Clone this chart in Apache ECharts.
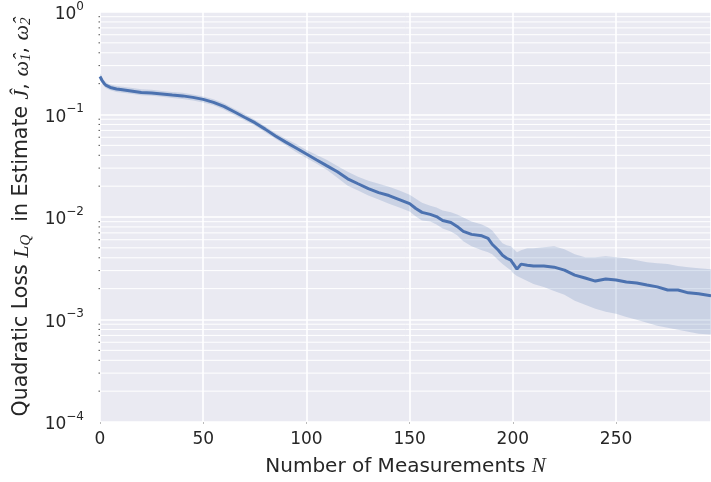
<!DOCTYPE html>
<html>
<head>
<meta charset="utf-8">
<script src="https://cdn.jsdelivr.net/npm/echarts@6/dist/echarts.min.js"></script>
<style>
  html, body { margin: 0; padding: 0; background: #ffffff; }
  #chart { width: 711px; height: 482px; }
</style>
</head>
<body>
<div id="chart"></div>
<script>
// Number of measurements at which the loss was sampled
const measurements = [0, 1, 2, 3, 5, 8, 10, 15, 20, 25, 30, 35, 40, 45, 50, 55, 60, 65, 70, 75,
  80, 85, 90, 95, 100, 105, 110, 115, 120, 125, 130, 135, 140, 145, 150, 153, 156, 160, 163, 166,
  170, 173, 176, 180, 185, 188, 190, 193, 195, 197, 199, 200, 202, 204, 207, 210, 215, 220, 225, 230,
  235, 240, 245, 250, 255, 260, 265, 270, 275, 280, 285, 290, 296];

// Mean quadratic loss
const meanLoss = [0.2347, 0.2146, 0.2008, 0.1920, 0.1836, 0.1776, 0.1756, 0.1698, 0.1642, 0.1624,
  0.1589, 0.1553, 0.1519, 0.1469, 0.1405, 0.1314, 0.1202, 0.1063, 0.0940, 0.0832,
  0.0720, 0.0616, 0.0538, 0.0471, 0.0412, 0.0360, 0.0315, 0.0276, 0.0236, 0.0211,
  0.0189, 0.0173, 0.0162, 0.0148, 0.0135, 0.0121, 0.0111, 0.0106, 0.0101, 0.00925,
  0.00885, 0.00809, 0.00724, 0.00677, 0.00655, 0.00619, 0.00542, 0.00474, 0.00424, 0.00396,
  0.00379, 0.00354, 0.00310, 0.00347, 0.00339, 0.00332, 0.00332, 0.00324, 0.00303, 0.00271,
  0.00254, 0.00237, 0.00248, 0.00243, 0.00232, 0.00227, 0.00217, 0.00208, 0.00194, 0.00194,
  0.00182, 0.00178, 0.00170];

// Upper edge of the spread band
const upperLoss = [0.251, 0.230, 0.215, 0.205, 0.196, 0.190, 0.188, 0.182, 0.176, 0.174,
  0.170, 0.166, 0.163, 0.157, 0.150, 0.141, 0.129, 0.114, 0.101, 0.089,
  0.077, 0.066, 0.058, 0.0515, 0.0450, 0.0403, 0.0360, 0.0315, 0.0276, 0.0247,
  0.0226, 0.0211, 0.0197, 0.0181, 0.0165, 0.0151, 0.0138, 0.0129, 0.0124, 0.0116,
  0.0111, 0.0106, 0.00989, 0.00904, 0.00846, 0.00791, 0.00740, 0.00619, 0.00554, 0.00530,
  0.00518, 0.00495, 0.00453, 0.00474, 0.00495, 0.00495, 0.00506, 0.00518, 0.00484, 0.00433,
  0.00405, 0.00405, 0.00414, 0.00405, 0.00396, 0.00379, 0.00362, 0.00354, 0.00347, 0.00332,
  0.00324, 0.00317, 0.00310];

// Lower edge of the spread band
const lowerLoss = [0.219, 0.201, 0.188, 0.180, 0.172, 0.166, 0.164, 0.159, 0.154, 0.152,
  0.149, 0.145, 0.142, 0.137, 0.131, 0.123, 0.112, 0.099, 0.088, 0.078,
  0.067, 0.058, 0.050, 0.0431, 0.0377, 0.0330, 0.0288, 0.0241, 0.0202, 0.0181,
  0.0162, 0.0148, 0.0135, 0.0124, 0.0113, 0.0101, 0.00925, 0.00904, 0.00846, 0.00774,
  0.00724, 0.00662, 0.00579, 0.00518, 0.00474, 0.00453, 0.00433, 0.00379, 0.00347, 0.00324,
  0.00303, 0.00284, 0.00265, 0.00254, 0.00237, 0.00222, 0.00208, 0.00190, 0.00174, 0.00152,
  0.00139, 0.00127, 0.00119, 0.00114, 0.00106, 0.000995, 0.000930, 0.000870, 0.000832, 0.000796,
  0.000761, 0.000728, 0.000712];

// Axis ranges and ticks
const xTicks = [0, 50, 100, 150, 200, 250];
const xMax = 296;
const yDecades = [1e-4, 1e-3, 1e-2, 1e-1, 1];
const minorMultipliers = [2, 3, 4, 5, 6, 7, 8, 9];

const minorValues = [];
for (let d = 0; d < yDecades.length - 1; d++) {
  for (const m of minorMultipliers) minorValues.push([0, yDecades[d] * m]);
}

const lineColor = '#4C72B0';
const textColor = '#262626';
const mathFont = '"Liberation Serif", "DejaVu Serif", serif';
const sansFont = '"DejaVu Sans", sans-serif';

const chart = echarts.init(document.getElementById('chart'), null, { renderer: 'canvas' });

chart.setOption({
  backgroundColor: '#ffffff',
  animation: false,
  grid: {
    left: 100, right: 0, top: 12, bottom: 57,
    show: true, backgroundColor: '#EAEAF2', borderWidth: 0
  },
  xAxis: {
    type: 'value',
    min: 0, max: xMax, interval: 50,
    axisLine: { show: false },
    axisTick: { show: true, length: 2, lineStyle: { color: '#bbbbbb', width: 1 } },
    splitLine: { show: true, lineStyle: { color: '#ffffff', width: 1.6 } },
    axisLabel: {
      color: textColor, fontFamily: sansFont, fontSize: 17, margin: 9,
      showMaxLabel: false,
      formatter: v => (xTicks.includes(v) ? String(v) : '')
    },
    name: '{t|Number of Measurements }{m|N}',
    nameLocation: 'middle',
    nameGap: 34,
    nameTextStyle: {
      rich: {
        t: { fontFamily: sansFont, fontSize: 20, color: textColor },
        m: { fontFamily: mathFont, fontStyle: 'italic', fontSize: 21, color: textColor }
      }
    }
  },
  yAxis: {
    type: 'log',
    logBase: 10,
    min: 1e-4, max: 1,
    axisLine: { show: false },
    axisTick: { show: false },
    splitLine: { show: true, lineStyle: { color: '#ffffff', width: 1.6 } },
    axisLabel: {
      margin: 16,
      formatter: v => {
        const e = Math.round(Math.log10(v));
        return '{b|10}{e|' + (e < 0 ? '\u2212' + (-e) : e) + '}';
      },
      rich: {
        b: { fontFamily: sansFont, fontSize: 17, color: textColor, padding: [6, 0, 0, 0] },
        e: { fontFamily: sansFont, fontSize: 12, color: textColor, verticalAlign: 'top', padding: [0, 0, 6, 0] }
      }
    },
    name: '{t|Quadratic Loss }{m|L}{s|Q}{t|  in Estimate }{m|\u0134}{t|, }{m|\u03C9\u0302}{s|1}{t|, }{m|\u03C9\u0302}{s|2}',
    nameLocation: 'middle',
    nameGap: 66,
    nameRotate: 90,
    nameTextStyle: {
      rich: {
        t: { fontFamily: sansFont, fontSize: 20.5, color: textColor },
        m: { fontFamily: mathFont, fontStyle: 'italic', fontSize: 22, color: textColor },
        s: { fontFamily: mathFont, fontStyle: 'italic', fontSize: 15, color: textColor, padding: [9, 0, 0, 0] }
      }
    }
  },
  series: [
    {
      // minor grid lines at 2..9 of each decade, with short ticks on the left
      type: 'custom',
      z: 1,
      silent: true,
      data: minorValues,
      encode: { x: 0, y: 1 },
      renderItem: (params, api) => {
        const cs = params.coordSys;
        const y = api.coord([0, api.value(1)])[1];
        return {
          type: 'group',
          children: [
            { type: 'line', shape: { x1: cs.x, y1: y, x2: cs.x + cs.width, y2: y },
              style: { stroke: '#ffffff', lineWidth: 1 } },
            { type: 'line', shape: { x1: cs.x - 1.5, y1: y, x2: cs.x, y2: y },
              style: { stroke: '#555555', lineWidth: 1 } }
          ]
        };
      }
    },
    {
      // spread band around the mean loss
      type: 'custom',
      z: 2,
      silent: true,
      data: [[0, meanLoss[0]]],
      encode: { x: 0, y: 1 },
      renderItem: (params, api) => {
        const pts = [];
        for (let i = 0; i < measurements.length; i++) pts.push(api.coord([measurements[i], upperLoss[i]]));
        for (let i = measurements.length - 1; i >= 0; i--) pts.push(api.coord([measurements[i], lowerLoss[i]]));
        return {
          type: 'polygon',
          shape: { points: pts },
          style: { fill: 'rgba(76,114,176,0.2)', stroke: null }
        };
      }
    },
    {
      type: 'line',
      z: 3,
      data: measurements.map((n, i) => [n, meanLoss[i]]),
      showSymbol: false,
      symbol: 'none',
      lineStyle: { color: lineColor, width: 3 },
      itemStyle: { color: lineColor }
    }
  ]
});
</script>
</body>
</html>
